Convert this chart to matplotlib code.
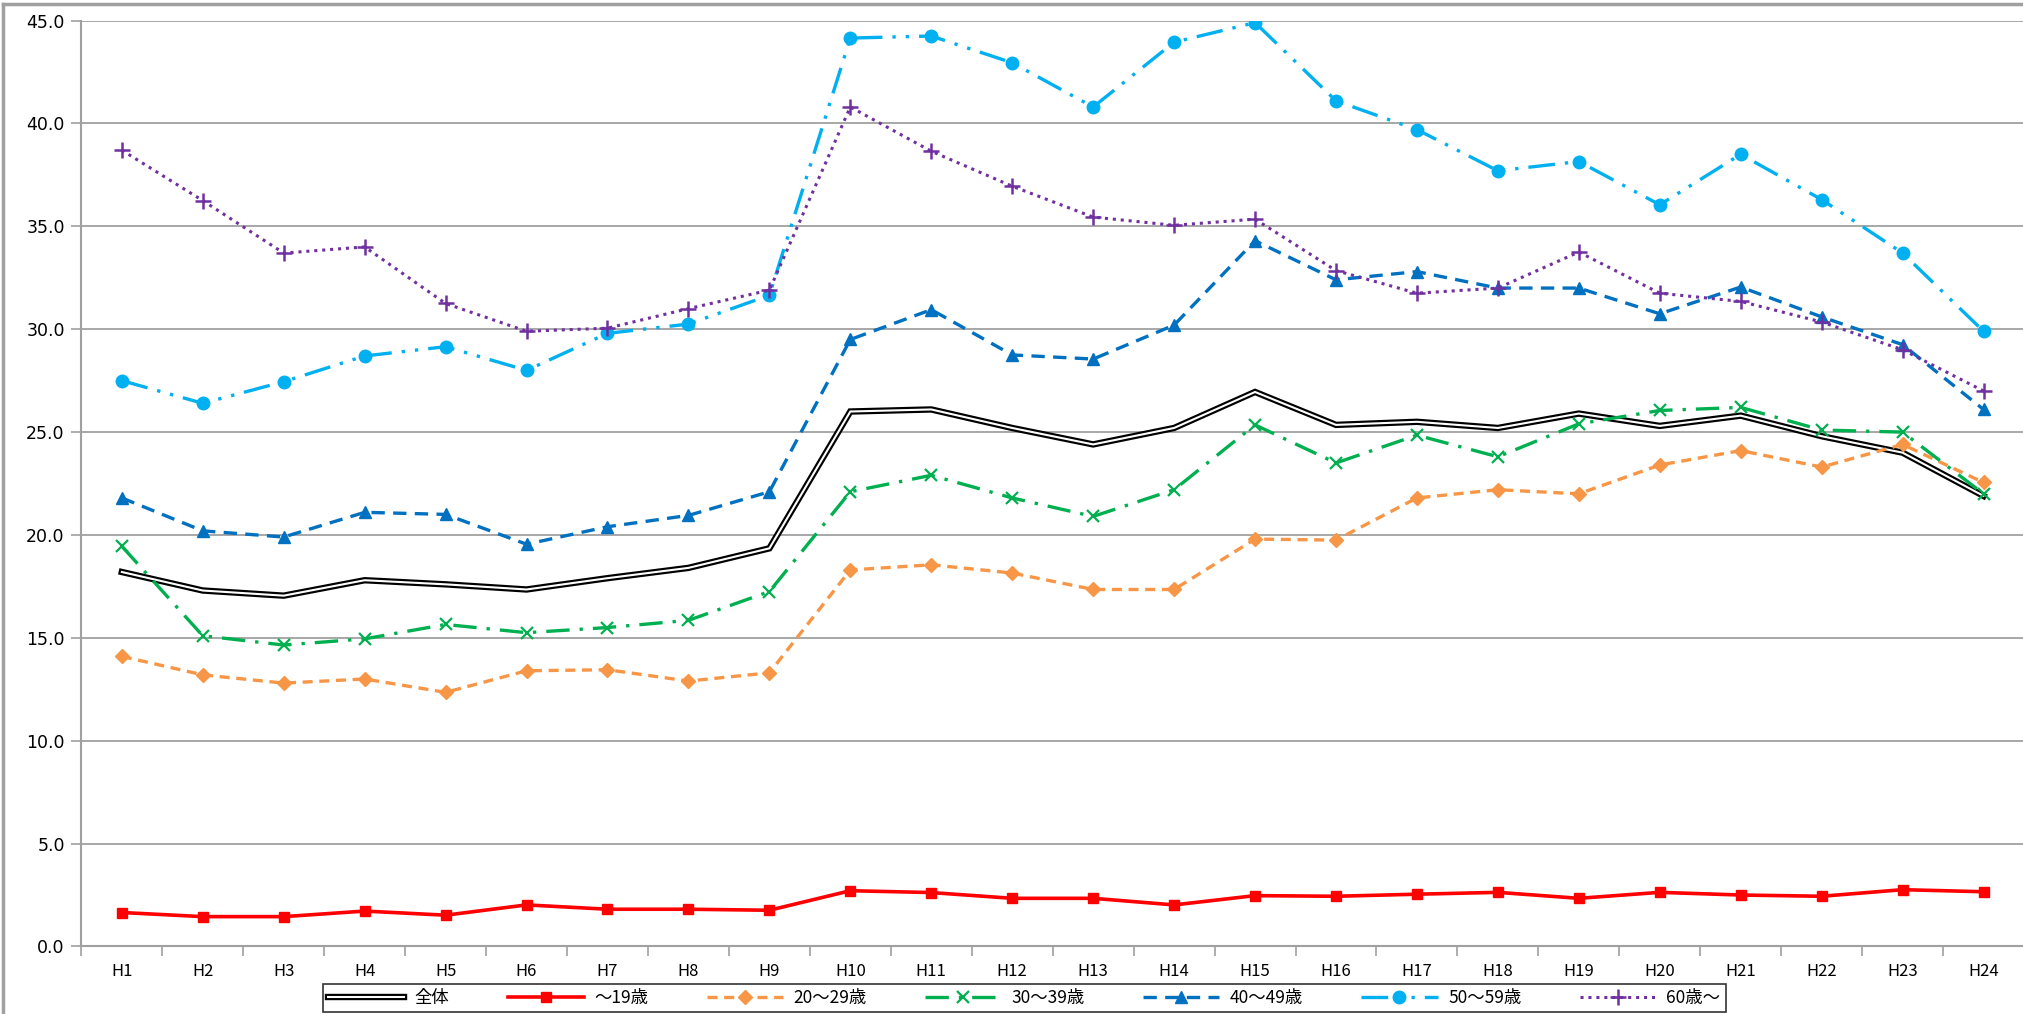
"""Line chart of rates by age group, H1-H24."""

import matplotlib
matplotlib.use("Agg")
import numpy as np
import matplotlib.pyplot as plt
import matplotlib.patheffects as pe
from matplotlib.lines import Line2D

plt.rcParams['font.family'] = ['Noto Sans CJK JP', 'DejaVu Sans']

years = ["H%d" % i for i in range(1, 25)]

total = [18.2, 17.3, 17.05, 17.8, 17.6, 17.35, 17.9, 18.4, 19.35, 26.0, 26.1,
         25.2, 24.4, 25.2, 26.95, 25.35, 25.5, 25.2, 25.9, 25.3, 25.8, 24.8,
         24.0, 21.9]
age_19 = [1.65, 1.45, 1.45, 1.72, 1.52, 2.02, 1.81, 1.81, 1.76, 2.71, 2.62,
          2.34, 2.34, 2.02, 2.47, 2.44, 2.54, 2.63, 2.34, 2.63, 2.5, 2.44,
          2.76, 2.66]
age_20s = [14.1, 13.2, 12.8, 13.0, 12.35, 13.4, 13.45, 12.9, 13.3, 18.3, 18.55,
           18.15, 17.35, 17.35, 19.8, 19.75, 21.8, 22.2, 22.0, 23.4, 24.1,
           23.3, 24.4, 22.55]
age_30s = [19.45, 15.1, 14.65, 14.95, 15.65, 15.25, 15.5, 15.85, 17.25, 22.1,
           22.9, 21.8, 20.9, 22.2, 25.35, 23.5, 24.85, 23.8, 25.4, 26.05, 26.2,
           25.1, 25.0, 22.0]
age_40s = [21.8, 20.2, 19.9, 21.1, 21.0, 19.55, 20.4, 20.95, 22.1, 29.5, 30.95,
           28.75, 28.55, 30.2, 34.3, 32.4, 32.8, 32.0, 32.0, 30.75, 32.05,
           30.6, 29.25, 26.1]
age_50s = [27.5, 26.4, 27.45, 28.7, 29.15, 28.0, 29.8, 30.25, 31.65, 44.15,
           44.25, 42.95, 40.8, 43.95, 44.9, 41.1, 39.7, 37.7, 38.15, 36.05,
           38.5, 36.3, 33.7, 29.9]
age_60 = [38.7, 36.25, 33.7, 34.0, 31.25, 29.9, 30.05, 31.0, 31.9, 40.8, 38.65,
          36.95, 35.45, 35.05, 35.35, 32.85, 31.75, 32.0, 33.75, 31.75, 31.35,
          30.35, 29.0, 27.0]

labels = ["全体", "〜19歳", "20〜29歳", "30〜39歳", "40〜49歳", "50〜59歳", "60歳〜"]

fig = plt.figure(figsize=(20.24, 10.14), dpi=100)
ax = fig.add_axes([0.0402, 0.0666, 0.9598, 0.9131])

x = np.arange(len(years))

ax.plot(x, total, color='white', lw=1.5, solid_joinstyle='miter',
        path_effects=[pe.Stroke(linewidth=4.6, foreground='black'), pe.Normal()],
        label=labels[0], zorder=3)
ax.plot(x, age_19, color='#FF0000', lw=2.6, marker='s', ms=7,
        label=labels[1], zorder=4)
ax.plot(x, age_20s, color='#F79646', lw=2.4, ls=(0, (3, 2)), marker='D', ms=7,
        label=labels[2], zorder=4)
ax.plot(x, age_30s, color='#00B050', lw=2.4, ls=(0, (7, 3, 1, 3)), marker='x',
        ms=9, mew=1.6, label=labels[3], zorder=4)
ax.plot(x, age_40s, color='#0070C0', lw=2.4, ls=(0, (4, 2.5)), marker='^', ms=9,
        label=labels[4], zorder=4)
ax.plot(x, age_50s, color='#00B0F0', lw=2.4, ls=(0, (8, 3, 1, 3, 1, 3)),
        marker='o', ms=9, label=labels[5], zorder=4)
ax.plot(x, age_60, color='#7030A0', lw=2.2, ls=(0, (1, 1.6)), marker='+', ms=12,
        mew=1.8, label=labels[6], zorder=4)

ax.set_xlim(-0.5, len(years) - 0.5)
ax.set_ylim(0, 45)
ax.set_yticks(np.arange(0, 46, 5))
ax.set_yticklabels(["%.1f" % v for v in np.arange(0, 46, 5)],
                   family='DejaVu Sans', fontsize=12.5)
ax.set_xticks(x)
ax.set_xticklabels(years, fontsize=12)
ax.set_xticks(np.arange(-0.5, len(years), 1), minor=True)
ax.tick_params(axis='x', which='major', length=0, pad=12)
ax.tick_params(axis='x', which='minor', length=7, color='#A0A0A0', width=1.2)
ax.tick_params(axis='y', length=7, color='#A0A0A0', width=1.2, pad=5)

ax.grid(axis='y', color='#A0A0A0', lw=1.3)
ax.set_axisbelow(True)
for side in ('top', 'right'):
    ax.spines[side].set_visible(False)
for side in ('left', 'bottom'):
    ax.spines[side].set_color('#A0A0A0')
    ax.spines[side].set_linewidth(1.5)

leg = ax.legend(loc='center', bbox_to_anchor=(0.506, 0.0158),
                bbox_transform=fig.transFigure, ncol=7, fontsize=12.5,
                handlelength=4.4, columnspacing=3.35, handletextpad=0.6,
                frameon=True, fancybox=False, borderpad=0.3)
leg.get_frame().set_edgecolor('black')
leg.get_frame().set_linewidth(1.2)

# outer chart frame
fig.add_artist(Line2D([0.0015, 0.0015], [0, 0.996], color='#A0A0A0', lw=2.5,
                      transform=fig.transFigure))
fig.add_artist(Line2D([0.0015, 1], [0.996, 0.996], color='#A0A0A0', lw=2.5,
                      transform=fig.transFigure))

fig.savefig("out.png", dpi=100)
